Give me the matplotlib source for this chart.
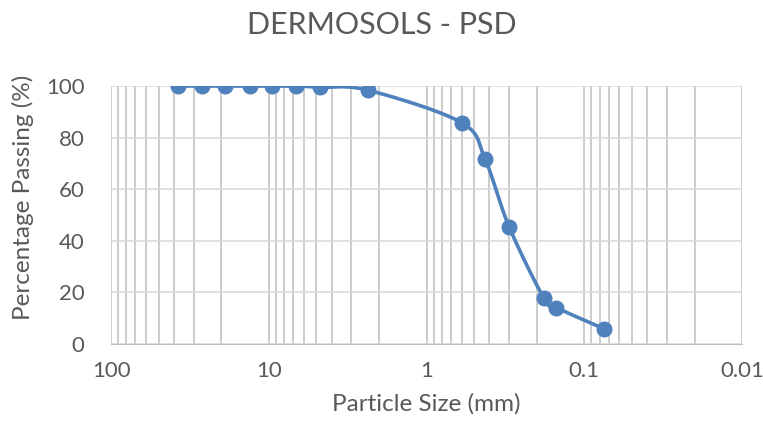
import numpy as np
import matplotlib.pyplot as plt
from matplotlib.ticker import FixedLocator, LogLocator, NullFormatter

plt.rcParams['font.family'] = ['Lato', 'DejaVu Sans']

# sieve sizes (mm) and percentage passing
sizes = [37.5, 26.5, 19, 13.2, 9.5, 6.7, 4.75, 2.36, 0.6, 0.425, 0.3, 0.18, 0.15, 0.075]
passing = [100, 100, 100, 100, 100, 100, 99.5, 98.4, 85.8, 71.6, 45.5, 17.7, 14.1, 5.9]

x_ticks = [100, 10, 1, 0.1, 0.01]
x_tick_labels = ['100', '10', '1', '0.1', '0.01']
y_ticks = [0, 20, 40, 60, 80, 100]

blue = '#4F81BD'
text_col = '#595959'


def smooth(xs, ys, n=40):
    # catmull-rom style smoothing (like a spreadsheet "smoothed line")
    px = np.log10(np.asarray(xs, float))
    py = np.asarray(ys, float)
    px = np.concatenate([[px[0]], px, [px[-1]]])
    py = np.concatenate([[py[0]], py, [py[-1]]])
    outx, outy = [], []
    for i in range(1, len(px) - 2):
        p0 = np.array([px[i], py[i]])
        p3 = np.array([px[i + 1], py[i + 1]])
        c1 = p0 + (np.array([px[i + 1], py[i + 1]]) - np.array([px[i - 1], py[i - 1]])) / 6
        c2 = p3 - (np.array([px[i + 2], py[i + 2]]) - np.array([px[i], py[i]])) / 6
        t = np.linspace(0, 1, n)[:, None]
        pts = ((1 - t) ** 3) * p0 + 3 * ((1 - t) ** 2) * t * c1 + 3 * (1 - t) * t ** 2 * c2 + t ** 3 * p3
        outx.extend(pts[:, 0])
        outy.extend(pts[:, 1])
    return 10 ** np.array(outx), np.array(outy)


fig = plt.figure(figsize=(7.63, 4.30), dpi=100)
ax = fig.add_axes([0.1455, 0.2, 0.827, 0.6])

sx, sy = smooth(sizes, passing)
ax.plot(sx, sy, color=blue, lw=2.6, zorder=3, solid_capstyle='round')
ax.plot(sizes, passing, 'o', color=blue, ms=10.5, zorder=4)

ax.set_xscale('log')
ax.set_xlim(100, 0.01)
ax.set_ylim(0, 100)
ax.xaxis.set_major_locator(FixedLocator(x_ticks))
ax.set_xticks(x_ticks)
ax.set_xticklabels(x_tick_labels)
ax.xaxis.set_minor_locator(LogLocator(base=10, subs=np.arange(2, 10)))
ax.xaxis.set_minor_formatter(NullFormatter())
ax.set_yticks(y_ticks)

ax.grid(axis='x', which='both', color='#BFBFBF', lw=1.1)
ax.grid(axis='y', which='major', color='#D9D9D9', lw=1.1)
ax.set_axisbelow(True)

for s in ['top', 'right', 'left']:
    ax.spines[s].set_visible(False)
ax.spines['bottom'].set_color('#BFBFBF')
ax.tick_params(axis='both', which='both', length=0, labelsize=16, labelcolor=text_col)
ax.tick_params(axis='x', pad=12)
ax.tick_params(axis='y', pad=19)

ax.set_xlabel('Particle Size (mm)', fontsize=17.5, color=text_col, labelpad=9)
ax.set_ylabel('Percentage Passing (%)', fontsize=17.5, color=text_col, labelpad=9)
ax.yaxis.label.set_y(0.57)
fig.suptitle('DERMOSOLS - PSD', fontsize=22, color=text_col, y=0.975)

fig.savefig('out.png', dpi=100)
